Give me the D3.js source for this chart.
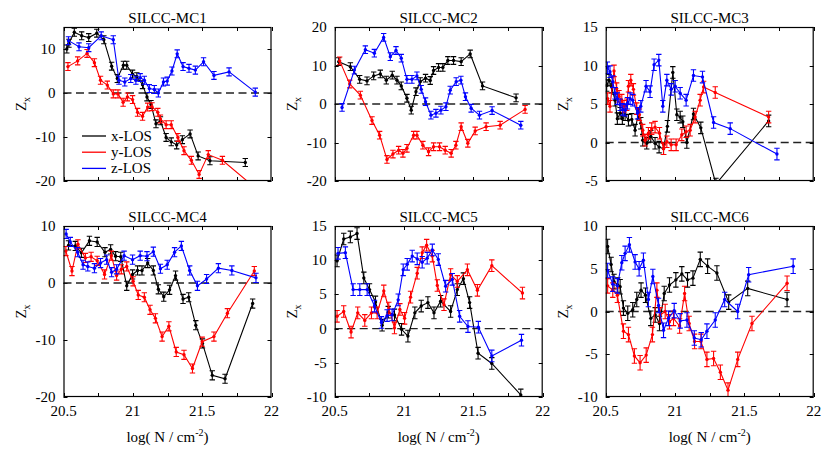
<!DOCTYPE html>
<html><head><meta charset="utf-8">
<script src="https://cdn.jsdelivr.net/npm/d3@7"></script>
<style>body{margin:0;background:#fff}svg{display:block}</style>
</head><body><svg id="c" width="830" height="452" font-family="'Liberation Serif', 'Times New Roman', Times, 'DejaVu Serif', serif"></svg>
<script>
// ---- data: [log N, Z_x] ----
const mc1X=[[20.524,10.0],[20.539,11.3],[20.578,13.8],[20.631,13.0],[20.682,12.6],[20.740,13.6],[20.791,12.1],[20.847,6.1],[20.888,3.3],[20.932,6.3],[20.956,6.3],[20.998,4.3],[21.029,3.7],[21.070,1.9],[21.102,-0.9],[21.131,-2.6],[21.167,-7.0],[21.199,-6.3],[21.240,-10.1],[21.277,-11.1],[21.316,-11.8],[21.357,-10.6],[21.413,-9.3],[21.471,-14.3],[21.556,-15.4],[21.811,-15.8]];
const mc1Y=[[20.532,6.0],[20.602,7.3],[20.670,9.0],[20.723,6.9],[20.767,2.9],[20.816,1.8],[20.859,-0.2],[20.893,-0.2],[20.930,-2.1],[20.961,-0.9],[20.998,-1.5],[21.034,-4.4],[21.070,-5.3],[21.107,-3.2],[21.138,-3.1],[21.180,-4.4],[21.199,-5.9],[21.240,-7.2],[21.277,-7.2],[21.325,-10.1],[21.369,-13.1],[21.422,-15.3],[21.478,-18.5],[21.544,-14.0],[21.646,-15.3],[21.900,-22.0]];
const mc1Z=[[20.536,11.9],[20.612,10.5],[20.682,10.3],[20.772,13.0],[20.859,12.1],[20.900,2.9],[20.942,2.5],[20.985,3.3],[21.022,2.9],[21.053,3.5],[21.083,2.9],[21.119,1.0],[21.155,0.8],[21.184,0.0],[21.221,2.5],[21.248,2.7],[21.282,5.0],[21.320,8.9],[21.362,6.0],[21.405,5.6],[21.451,5.2],[21.510,7.1],[21.585,4.0],[21.694,4.8],[21.883,0.2]];

const mc2X=[[20.529,11.0],[20.613,9.7],[20.680,6.4],[20.733,6.0],[20.781,7.3],[20.829,7.8],[20.872,6.2],[20.915,7.5],[20.949,6.2],[20.980,4.7],[21.021,1.5],[21.052,-1.6],[21.086,3.2],[21.117,5.8],[21.155,6.7],[21.189,6.1],[21.213,8.7],[21.249,9.5],[21.280,9.5],[21.316,11.3],[21.357,11.3],[21.412,11.0],[21.477,13.0],[21.566,4.7],[21.808,1.6]];
const mc2Y=[[20.536,11.2],[20.608,5.2],[20.685,2.3],[20.769,-4.3],[20.824,-8.1],[20.877,-14.4],[20.920,-13.0],[20.961,-12.0],[20.992,-12.8],[21.021,-11.5],[21.069,-8.1],[21.093,-8.1],[21.136,-10.7],[21.177,-12.4],[21.213,-11.1],[21.256,-11.1],[21.297,-12.0],[21.340,-12.8],[21.374,-10.7],[21.412,-5.9],[21.460,-10.2],[21.513,-7.0],[21.592,-5.9],[21.693,-5.5],[21.873,-1.4]];
const mc2Z=[[20.553,-0.9],[20.642,8.8],[20.721,14.1],[20.786,13.2],[20.853,17.3],[20.901,12.3],[20.942,13.9],[20.980,11.9],[21.021,6.4],[21.057,6.4],[21.093,7.3],[21.124,3.8],[21.155,0.6],[21.194,-2.9],[21.230,-2.4],[21.266,-1.6],[21.302,-0.7],[21.333,3.6],[21.376,5.8],[21.410,6.2],[21.443,1.9],[21.484,-1.1],[21.544,-2.9],[21.635,-1.7],[21.842,-5.5]];

const mc3X=[[20.507,7.4],[20.524,8.1],[20.543,7.2],[20.567,5.5],[20.584,3.1],[20.604,3.8],[20.620,3.1],[20.640,3.6],[20.664,2.9],[20.688,3.0],[20.712,1.6],[20.736,3.8],[20.753,2.5],[20.767,0.3],[20.796,-0.1],[20.825,0.8],[20.856,-0.1],[20.885,-0.6],[20.917,-0.8],[20.945,2.1],[20.984,9.1],[21.013,3.6],[21.037,3.3],[21.056,2.7],[21.085,0.0],[21.133,3.7],[21.186,1.9],[21.295,-5.4],[21.675,2.8]];
const mc3Y=[[20.514,5.7],[20.531,4.7],[20.560,9.3],[20.579,7.0],[20.596,6.0],[20.616,5.5],[20.632,4.7],[20.652,4.9],[20.664,7.3],[20.681,8.1],[20.700,6.9],[20.724,4.4],[20.743,3.6],[20.767,1.6],[20.784,0.3],[20.808,1.2],[20.832,1.8],[20.856,2.0],[20.888,1.2],[20.917,-0.8],[20.941,0.1],[20.972,-0.3],[21.008,-0.3],[21.049,1.0],[21.080,1.4],[21.109,1.6],[21.145,3.3],[21.181,5.5],[21.206,7.2],[21.290,6.5],[21.675,3.3]];
const mc3Z=[[20.512,9.7],[20.531,9.2],[20.551,7.9],[20.567,6.4],[20.584,5.7],[20.604,4.9],[20.623,4.3],[20.640,4.2],[20.657,5.1],[20.676,5.7],[20.695,5.5],[20.729,3.8],[20.753,4.7],[20.791,7.3],[20.820,6.6],[20.849,10.1],[20.883,10.7],[20.912,4.7],[20.941,8.1],[20.972,6.9],[21.001,7.3],[21.037,6.4],[21.080,5.5],[21.133,8.7],[21.198,8.5],[21.278,2.6],[21.398,1.8],[21.735,-1.5]];

const mc4X=[[20.536,6.6],[20.585,6.5],[20.629,5.3],[20.687,7.4],[20.743,7.2],[20.799,5.4],[20.840,5.9],[20.876,4.7],[20.913,4.6],[20.956,-0.5],[20.998,1.5],[21.034,2.2],[21.066,2.2],[21.107,3.5],[21.148,2.2],[21.184,-1.1],[21.223,-2.4],[21.265,-1.2],[21.308,1.3],[21.362,-2.8],[21.403,-2.5],[21.454,-7.4],[21.502,-10.6],[21.573,-16.2],[21.665,-16.8],[21.864,-3.6]];
const mc4Y=[[20.517,5.6],[20.561,2.1],[20.604,6.8],[20.658,4.4],[20.699,4.6],[20.743,3.9],[20.796,1.5],[20.845,4.8],[20.883,1.3],[20.917,2.4],[20.956,2.9],[21.002,0.3],[21.039,-2.1],[21.083,-2.5],[21.124,-4.7],[21.163,-6.2],[21.211,-9.4],[21.260,-7.6],[21.313,-12.1],[21.369,-12.6],[21.430,-15.0],[21.500,-10.3],[21.585,-9.4],[21.682,-5.3],[21.876,2.1]];
const mc4Z=[[20.519,8.6],[20.549,7.2],[20.602,5.4],[20.641,3.2],[20.675,2.9],[20.723,2.6],[20.767,3.5],[20.811,4.1],[20.847,1.9],[20.883,2.4],[20.937,4.8],[20.998,4.1],[21.053,4.8],[21.102,4.7],[21.148,5.5],[21.199,2.5],[21.248,3.2],[21.301,5.4],[21.350,6.5],[21.410,2.2],[21.466,-0.5],[21.532,0.7],[21.617,2.6],[21.714,2.2],[21.888,0.9]];

const mc5X=[[20.517,9.9],[20.565,13.1],[20.613,13.4],[20.661,13.9],[20.710,7.4],[20.751,5.7],[20.794,3.9],[20.842,0.5],[20.886,2.4],[20.931,2.0],[20.982,-0.1],[21.028,-1.1],[21.078,2.3],[21.124,3.3],[21.172,3.8],[21.216,2.3],[21.264,4.0],[21.336,2.5],[21.384,5.7],[21.428,7.3],[21.473,3.8],[21.534,-3.6],[21.633,-5.1],[21.842,-9.7]];
const mc5Y=[[20.517,1.8],[20.565,2.5],[20.618,-0.5],[20.666,2.3],[20.717,1.2],[20.765,2.3],[20.806,2.3],[20.854,5.5],[20.890,3.0],[20.931,0.1],[20.970,2.8],[21.004,1.5],[21.047,4.6],[21.095,8.1],[21.131,11.1],[21.163,12.2],[21.204,10.6],[21.240,6.3],[21.288,3.5],[21.336,7.9],[21.384,6.9],[21.457,8.6],[21.529,5.6],[21.633,9.2],[21.854,5.2]];
const mc5Z=[[20.524,11.0],[20.577,11.1],[20.633,5.7],[20.681,5.7],[20.734,5.7],[20.787,3.3],[20.837,0.9],[20.878,1.9],[20.914,2.0],[20.958,4.2],[20.994,8.6],[21.023,9.4],[21.059,10.6],[21.095,10.2],[21.131,9.7],[21.167,10.3],[21.204,11.5],[21.247,10.1],[21.300,6.2],[21.348,7.2],[21.401,1.8],[21.461,0.3],[21.536,0.2],[21.633,-4.0],[21.847,-1.7]];

const mc6X=[[20.514,7.6],[20.539,5.5],[20.560,3.5],[20.587,3.1],[20.604,2.9],[20.628,0.4],[20.659,-0.2],[20.695,0.2],[20.724,1.4],[20.755,2.5],[20.787,1.9],[20.825,-0.8],[20.857,-0.4],[20.888,-1.4],[20.922,2.1],[20.960,3.1],[21.006,3.7],[21.049,4.4],[21.090,3.7],[21.129,3.9],[21.182,6.1],[21.235,5.3],[21.302,4.5],[21.387,1.1],[21.524,2.7],[21.808,1.4]];
const mc6Y=[[20.514,3.0],[20.551,2.5],[20.584,1.9],[20.628,-2.3],[20.664,-2.7],[20.707,-5.2],[20.748,-6.0],[20.792,-5.1],[20.837,-2.7],[20.869,2.5],[20.893,-0.4],[20.929,0.0],[20.960,-1.2],[20.989,-0.8],[21.033,-1.7],[21.069,2.1],[21.102,-1.4],[21.141,-3.5],[21.187,-3.5],[21.230,-5.6],[21.278,-5.5],[21.327,-7.1],[21.382,-9.2],[21.452,-5.6],[21.555,-1.4],[21.808,3.3]];
const mc6Z=[[20.514,4.8],[20.551,3.2],[20.584,3.0],[20.616,5.7],[20.640,6.8],[20.671,7.8],[20.712,5.8],[20.741,5.0],[20.772,6.0],[20.808,1.4],[20.840,4.1],[20.881,0.7],[20.917,-2.2],[20.953,-0.8],[20.994,0.1],[21.037,-1.1],[21.086,-1.0],[21.139,-3.1],[21.189,-3.3],[21.230,-2.3],[21.290,-1.0],[21.358,1.4],[21.452,0.0],[21.531,4.3],[21.852,5.3]];

const panelTitles=["SILCC-MC1","SILCC-MC2","SILCC-MC3","SILCC-MC4","SILCC-MC5","SILCC-MC6"];
const yDomains=[[-20,15],[-20,20],[-5,15],[-20,10],[-10,15],[-10,10]];
const yTickStep=[10,10,5,10,5,5];
const errSize=[0.9,1.0,0.75,0.8,0.85,0.85];
const xDomain=[20.5,22];
const xMajorTicks=[20.5,21,21.5,22];
const xAllTicks=[20.5,20.75,21,21.25,21.5,21.75,22];
const seriesNames=["x-LOS","y-LOS","z-LOS"];
const seriesColors=["#000000","#ff0000","#0000ff"];
const panelData=[[mc1X,mc1Y,mc1Z],[mc2X,mc2Y,mc2Z],[mc3X,mc3Y,mc3Z],[mc4X,mc4Y,mc4Z],[mc5X,mc5Y,mc5Z],[mc6X,mc6Y,mc6Z]];

// ---- layout ----
const colLeft=[63.5,334.7,605.7], pw=208;
const rowTop=[27,226], rowBot=[181,397];
const svg=d3.select("#c");
const FS=15;
const FF="'Liberation Serif', 'Times New Roman', Times, 'DejaVu Serif', serif";

panelData.forEach((series,i)=>{
  const r=Math.floor(i/3), c=i%3;
  const x0=colLeft[c], x1=x0+pw, y0=rowTop[r], y1=rowBot[r];
  const xs=d3.scaleLinear().domain(xDomain).range([x0,x1]);
  const ys=d3.scaleLinear().domain(yDomains[i]).range([y1,y0]);
  const g=svg.append("g").attr("font-family",FF);
  const cid="clip"+i;
  svg.append("clipPath").attr("id",cid).append("rect").attr("x",x0).attr("y",y0).attr("width",pw).attr("height",y1-y0);

  const yt=d3.range(yDomains[i][0],yDomains[i][1]+0.001,yTickStep[i]);
  const tk=g.append("g").attr("stroke","#000").attr("stroke-width",1);
  xAllTicks.forEach(t=>{
    const X=Math.round(xs(t))+0.5;
    tk.append("line").attr("x1",X).attr("x2",X).attr("y1",y1).attr("y2",y1-4);
    tk.append("line").attr("x1",X).attr("x2",X).attr("y1",y0).attr("y2",y0+4);
  });
  yt.forEach(t=>{
    const Y=Math.round(ys(t))+0.5;
    tk.append("line").attr("x1",x0).attr("x2",x0+4).attr("y1",Y).attr("y2",Y);
    tk.append("line").attr("x1",x1).attr("x2",x1-4).attr("y1",Y).attr("y2",Y);
  });
  yt.forEach(t=>{
    g.append("text").attr("x",x0-8).attr("y",ys(t)+5).attr("text-anchor","end")
     .attr("font-family",FF).attr("font-size",FS).text(t);
  });
  if(r===1){
    xMajorTicks.forEach(t=>{
      g.append("text").attr("x",xs(t)).attr("y",y1+19).attr("text-anchor","middle")
       .attr("font-family",FF).attr("font-size",FS).text(t);
    });
    const xl=g.append("text").attr("x",(x0+x1)/2).attr("y",y1+45).attr("text-anchor","middle").attr("font-family",FF).attr("font-size",FS);
    xl.append("tspan").text("log( N / cm");
    xl.append("tspan").attr("dy",-6).attr("font-size",10).text("-2");
    xl.append("tspan").attr("dy",6).text(")");
  }
  const yl=g.append("text").attr("transform",`translate(${x0-38},${(y0+y1)/2}) rotate(-90)`)
    .attr("text-anchor","middle").attr("font-family",FF).attr("font-size",FS);
  yl.append("tspan").text("Z");
  yl.append("tspan").attr("dy",4).attr("font-size",10).text("x");
  g.append("text").attr("x",(x0+x1)/2).attr("y",y0-4).attr("text-anchor","middle").attr("font-family",FF).attr("font-size",FS).text(panelTitles[i]);

  g.append("line").attr("x1",x0).attr("x2",x1).attr("y1",ys(0)).attr("y2",ys(0))
   .attr("stroke","#222").attr("stroke-width",1.3).attr("stroke-dasharray","8,4.5");

  const dg=g.append("g").attr("clip-path",`url(#${cid})`);
  const line=d3.line().x(d=>xs(d[0])).y(d=>ys(d[1]));
  series.forEach((s,k)=>{
    const col=seriesColors[k];
    dg.append("path").attr("d",line(s)).attr("fill","none").attr("stroke",col).attr("stroke-width",1.1);
    s.forEach(d=>{
      const X=xs(d[0]), Ya=ys(d[1]-errSize[i]), Yb=ys(d[1]+errSize[i]);
      dg.append("line").attr("x1",X).attr("x2",X).attr("y1",Ya).attr("y2",Yb).attr("stroke",col).attr("stroke-width",1.1);
      dg.append("line").attr("x1",X-2.7).attr("x2",X+2.7).attr("y1",Ya).attr("y2",Ya).attr("stroke",col).attr("stroke-width",1.1);
      dg.append("line").attr("x1",X-2.7).attr("x2",X+2.7).attr("y1",Yb).attr("y2",Yb).attr("stroke",col).attr("stroke-width",1.1);
      dg.append("circle").attr("cx",X).attr("cy",ys(d[1])).attr("r",1.7).attr("fill",col);
    });
  });

  g.append("rect").attr("x",x0+0.5).attr("y",y0+0.5).attr("width",pw-1).attr("height",y1-y0-1)
   .attr("fill","none").attr("stroke","#000").attr("stroke-width",1.2);

  if(i===0){
    seriesNames.forEach((nm,k)=>{
      const Y=136+k*16.2;
      g.append("line").attr("x1",82).attr("x2",106).attr("y1",Y).attr("y2",Y).attr("stroke",seriesColors[k]).attr("stroke-width",1.3);
      g.append("text").attr("x",111).attr("y",Y+5).attr("font-family",FF).attr("font-size",FS).text(nm);
    });
  }
});
</script></body></html>
